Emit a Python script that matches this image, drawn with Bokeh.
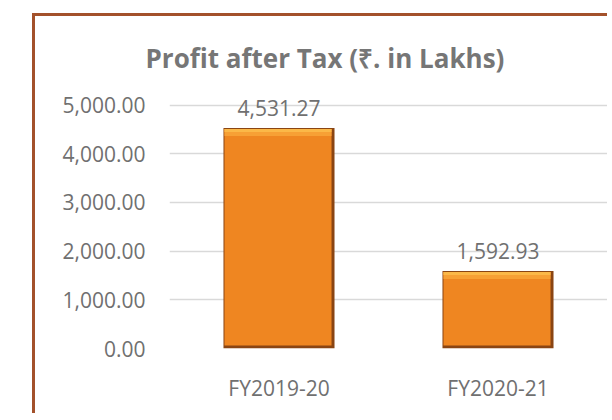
from bokeh.plotting import figure
from bokeh.models import (Range1d, FixedTicker, NumeralTickFormatter,
                          ColumnDataSource)
from bokeh.embed import file_html
from bokeh.resources import INLINE
from bokeh.core.properties import value

# ---- data ----
categories = ["FY2019-20", "FY2020-21"]
profit = [4531.27, 1592.93]
value_labels = ["4,531.27", "1,592.93"]
y_ticks = [0, 1000, 2000, 3000, 4000, 5000]
title_text = "Profit after Tax (\u20b9. in Lakhs)"

FONT = "Open Sans"
GREY = "#707070"
BORDER = "#A3512B"

W, H = 575, 400
Y_END = 5300
p = figure(width=W, height=H, output_backend="svg", toolbar_location=None,
           x_range=Range1d(0, len(categories)), y_range=Range1d(0, Y_END),
           min_border_left=134, min_border_right=3, min_border_top=74,
           min_border_bottom=68)
p.margin = (13, 0, 0, 32)
p.styles = {"border-left": "3px solid " + BORDER,
            "border-top": "3px solid " + BORDER}
p.outline_line_color = None
p.background_fill_color = "white"
p.border_fill_color = "white"

# pixel sizes in data units (frame 438 px wide, 258 px tall)
px_x = len(categories) / 438.0
px_y = Y_END / 258.0
hw = 0.2535

xs = [i + 0.5 for i in range(len(categories))]
src = ColumnDataSource(dict(
    x=xs, top=profit, label=value_labels,
    left=[x - hw for x in xs], right=[x + hw for x in xs],
    bleft=[x - hw + 1 * px_x for x in xs], bright=[x + hw - 3 * px_x for x in xs],
    btop=[v - 1 * px_y for v in profit], bbottom=[3 * px_y for _ in profit],
    ttop=[v - 1 * px_y for v in profit], tbottom=[v - 8 * px_y for v in profit],
    hbottom=[v - 4 * px_y for v in profit],
    zero=[0 for _ in profit],
))

# bar: dark bevel base, body, lighter top bevel
p.quad(left="left", right="right", bottom="zero", top="top", source=src,
       fill_color="#8A4513", line_color=None)
p.quad(left="bleft", right="bright", bottom="bbottom", top="btop", source=src,
       fill_color="#EF8621", line_color=None)
p.quad(left="bleft", right="bright", bottom="tbottom", top="ttop", source=src,
       fill_color="#F7A035", line_color=None)
p.quad(left="bleft", right="bright", bottom="hbottom", top="ttop", source=src,
       fill_color="#FBB848", line_color=None)

p.text(x="x", y="top", text="label", source=src, text_align="center",
       text_baseline="alphabetic", y_offset=-20,
       text_font=value(FONT), text_font_size="21px", text_color=GREY)

# axes
p.xaxis.ticker = FixedTicker(ticks=xs)
p.xaxis.major_label_overrides = {x: c for x, c in zip(xs, categories)}
p.yaxis.ticker = FixedTicker(ticks=y_ticks)
p.yaxis.formatter = NumeralTickFormatter(format="0,0.00")
for ax in (p.xaxis, p.yaxis):
    ax.axis_line_color = None
    ax.major_tick_line_color = None
    ax.minor_tick_line_color = None
    ax.major_label_text_font = FONT
    ax.major_label_text_font_size = "21px"
    ax.major_label_text_color = GREY
p.yaxis.major_label_standoff = 18
p.xaxis.major_label_standoff = 19

p.xgrid.visible = False
p.ygrid.grid_line_color = "#D9D9D9"
p.ygrid.grid_line_width = 1.3

# title
p.title.text = title_text
p.title.align = "left"
p.title.offset = -24
p.title.standoff = 29
p.title.text_font = FONT
p.title.text_font_size = "26px"
p.title.text_font_style = "bold"
p.title.text_color = "#767676"

open("out.html", "w").write(file_html(p, INLINE))
